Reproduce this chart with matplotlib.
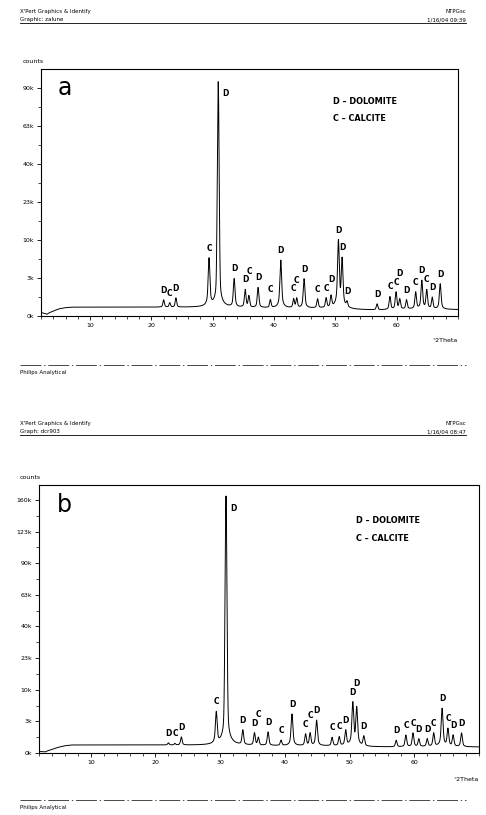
import matplotlib
matplotlib.use('Agg')
import matplotlib.pyplot as plt
import numpy as np
from matplotlib.lines import Line2D
from matplotlib.ticker import MultipleLocator

plt.rcParams['font.family'] = ['DejaVu Sans']

# ---- data read from the scanned patterns ----
# panel a
bg_x_a = [2, 3, 4, 5, 6, 7, 20, 28, 32, 40, 50, 53, 57, 62, 66, 70]
bg_y_a = [20, 5, 40, 90, 120, 135, 135, 130, 120, 110, 100, 70, 60, 80, 80, 70]
pos_a = [22.0, 23.0, 24.0, 29.4, 30.9, 33.5, 35.3, 35.9, 37.4, 39.4, 41.1, 43.2, 43.7, 44.9,
         47.1, 48.5, 49.3, 50.5, 51.1, 51.9, 56.8, 58.9, 59.9, 60.5, 61.6, 63.1, 64.1, 64.9,
         65.8, 67.1]
hgt_a = [450, 300, 560, 5800, 95000, 2400, 1200, 700, 1400, 450, 5400, 500, 550, 2400,
         500, 550, 700, 10000, 5800, 300, 250, 650, 1000, 500, 450, 1000, 2200, 1200,
         600, 1800]
lab_a = ['D', 'C', 'D', 'C', 'D', 'D', 'D', 'C', 'D', 'C', 'D', 'C', 'C', 'D',
         'C', 'C', 'D', 'D', 'D', 'D', 'D', 'C', 'C', 'D', 'D', 'C', 'D', 'C',
         'D', 'D']
yticks_a = [0, 2500, 10000, 22500, 40000, 62500, 90000]
ylabels_a = ['0k', '3k', '10k', '23k', '40k', '63k', '90k']

# panel b
bg_x_b = [2, 3, 4, 5, 6, 7, 20, 28, 32, 40, 50, 53, 57, 62, 66, 70]
bg_y_b = [5, 2, 30, 80, 130, 160, 160, 150, 140, 130, 120, 95, 90, 100, 95, 90]
pos_b = [22.0, 23.0, 24.0, 29.4, 30.9, 33.5, 35.3, 35.9, 37.4, 39.4, 41.1, 43.2, 43.9, 44.9,
         47.3, 48.4, 49.4, 50.5, 51.1, 52.2, 57.2, 58.7, 59.8, 60.7, 62.0, 63.0, 64.3, 65.2,
         66.0, 67.3]
hgt_b = [250, 220, 640, 4200, 165000, 1300, 1000, 600, 1100, 400, 3800, 900, 1000, 2700,
         600, 650, 1300, 6500, 5300, 700, 400, 800, 1000, 500, 500, 1000, 5000, 1500,
         800, 1000]
lab_b = ['D', 'C', 'D', 'C', 'D', 'D', 'D', 'C', 'D', 'C', 'D', 'C', 'C', 'D',
         'C', 'C', 'D', 'D', 'D', 'D', 'D', 'C', 'C', 'D', 'D', 'C', 'D', 'C',
         'D', 'D']
yticks_b = [0, 2500, 10000, 22500, 40000, 62500, 90000, 122500, 160000]
ylabels_b = ['0k', '3k', '10k', '23k', '40k', '63k', '90k', '123k', '160k']

xticks = [10, 20, 30, 40, 50, 60]


def profile(x, bg_x, bg_y, pos, hgt, w):
    y = np.interp(x, bg_x, bg_y).astype(float)
    base = np.interp(pos, bg_x, bg_y)
    for p, h, b in zip(pos, hgt, base):
        d = (x - p) / (w / 2)
        # pseudo-Voigt, strong peaks kept sharper (less lorentzian tail)
        eta = 0.12 if h > 50000 else 0.45
        y += (h - b) * (eta / (1 + d ** 2) + (1 - eta) * np.exp(-np.log(2) * d ** 2))
    return y


def panel(ax, bg_x, bg_y, pos, hgt, lab, yticks, ylabels, ytop, letter, w, legx):
    x = np.arange(2, 70.001, 0.01)
    y = profile(x, bg_x, bg_y, pos, hgt, w)
    ax.plot(x, y, color='black', lw=0.7)
    ax.set_yscale('function', functions=(lambda v: np.sqrt(np.clip(v, 0, None)),
                                         lambda v: v ** 2))
    ax.set_xlim(2, 70)
    ax.set_ylim(0, ytop)
    ax.set_yticks(yticks)
    ax.set_yticklabels(ylabels)
    r = np.sqrt(yticks)
    ax.set_yticks(((r[:-1] + r[1:]) / 2) ** 2, minor=True)
    ax.set_xticks(xticks)
    ax.xaxis.set_minor_locator(MultipleLocator(2))
    ax.tick_params(labelsize=4.5, length=3, width=0.6, direction='out', pad=2)
    ax.tick_params(which='minor', length=2, width=0.5)
    for s in ax.spines.values():
        s.set_linewidth(0.8)

    # peak letters, staggered upwards when they would collide
    yp = profile(np.array(pos), bg_x, bg_y, pos, hgt, w)
    to_disp = ax.transData.transform
    placed = []
    for p, h, t in zip(pos, yp, lab):
        if h > 50000:
            ax.annotate(t, (p, h), xytext=(5, -12), textcoords='offset points',
                        ha='center', va='bottom', fontsize=6, fontweight='bold',
                        fontstretch='condensed')
            continue
        px, py = to_disp((p, h))
        off = 5
        for qx, qy in placed:
            if abs(px - qx) < 5 and abs(py + off - qy) < 8:
                off = qy - py + 8.5
        placed.append((px, py + off))
        ax.annotate(t, (p, h), xytext=(0, off * 72 / fig.dpi),
                    textcoords='offset points', ha='center', va='bottom',
                    fontsize=6, fontweight='bold', fontstretch='condensed')

    ax.text(0.04, 0.97, letter, transform=ax.transAxes, fontsize=17,
            va='top', ha='left')
    ax.text(legx, 0.86, 'D – DOLOMITE', transform=ax.transAxes, fontsize=6.5,
            fontweight='bold', fontstretch='condensed')
    ax.text(legx, 0.79, 'C – CALCITE', transform=ax.transAxes, fontsize=6.5,
            fontweight='bold', fontstretch='condensed')
    ax.text(1.0, -0.09, '°2Theta', transform=ax.transAxes, fontsize=4.5,
            ha='right', va='top')
    ax.text(-0.045, 1.02, 'counts', transform=ax.transAxes, fontsize=4.5,
            ha='left', va='bottom')


fig = plt.figure(figsize=(4.86, 8.15), dpi=100)
W, H = 486.0, 815.0

ax_a = fig.add_axes([41 / W, 1 - 316 / H, 417 / W, 247 / H])
panel(ax_a, bg_x_a, bg_y_a, pos_a, hgt_a, lab_a, yticks_a, ylabels_a, 105600, 'a', 0.26, 0.7)

ax_b = fig.add_axes([39 / W, 1 - 753 / H, 440 / W, 268 / H])
panel(ax_b, bg_x_b, bg_y_b, pos_b, hgt_b, lab_b, yticks_b, ylabels_b, 179500, 'b', 0.26, 0.72)


# page header / footer of the instrument printout
def header(y, left1, left2, right1, right2):
    fig.text(20 / W, 1 - y / H, left1, fontsize=4, va='bottom')
    fig.text(20 / W, 1 - (y + 8) / H, left2, fontsize=4, va='bottom')
    fig.text(466 / W, 1 - y / H, right1, fontsize=4, va='bottom', ha='right')
    fig.text(466 / W, 1 - (y + 8) / H, right2, fontsize=4, va='bottom', ha='right')
    fig.add_artist(Line2D([20 / W, 466 / W], [1 - (y + 9) / H] * 2, color='black', lw=0.6))


def footer(y, text):
    fig.add_artist(Line2D([20 / W, 466 / W], [1 - y / H] * 2, color='black', lw=0.5,
                          ls=(0, (30, 4, 2, 4))))
    fig.text(20 / W, 1 - (y + 10) / H, text, fontsize=4, va='bottom')


header(14, "X'Pert Graphics & Identify", 'Graphic: zalune', 'NTPGsc', '1/16/04 09:39')
footer(365, 'Philips Analytical')
header(426, "X'Pert Graphics & Identify", 'Graph: dcr903', 'NTPGsc', '1/16/04 08:47')
footer(800, 'Philips Analytical')

fig.savefig('out.png', dpi=100)
